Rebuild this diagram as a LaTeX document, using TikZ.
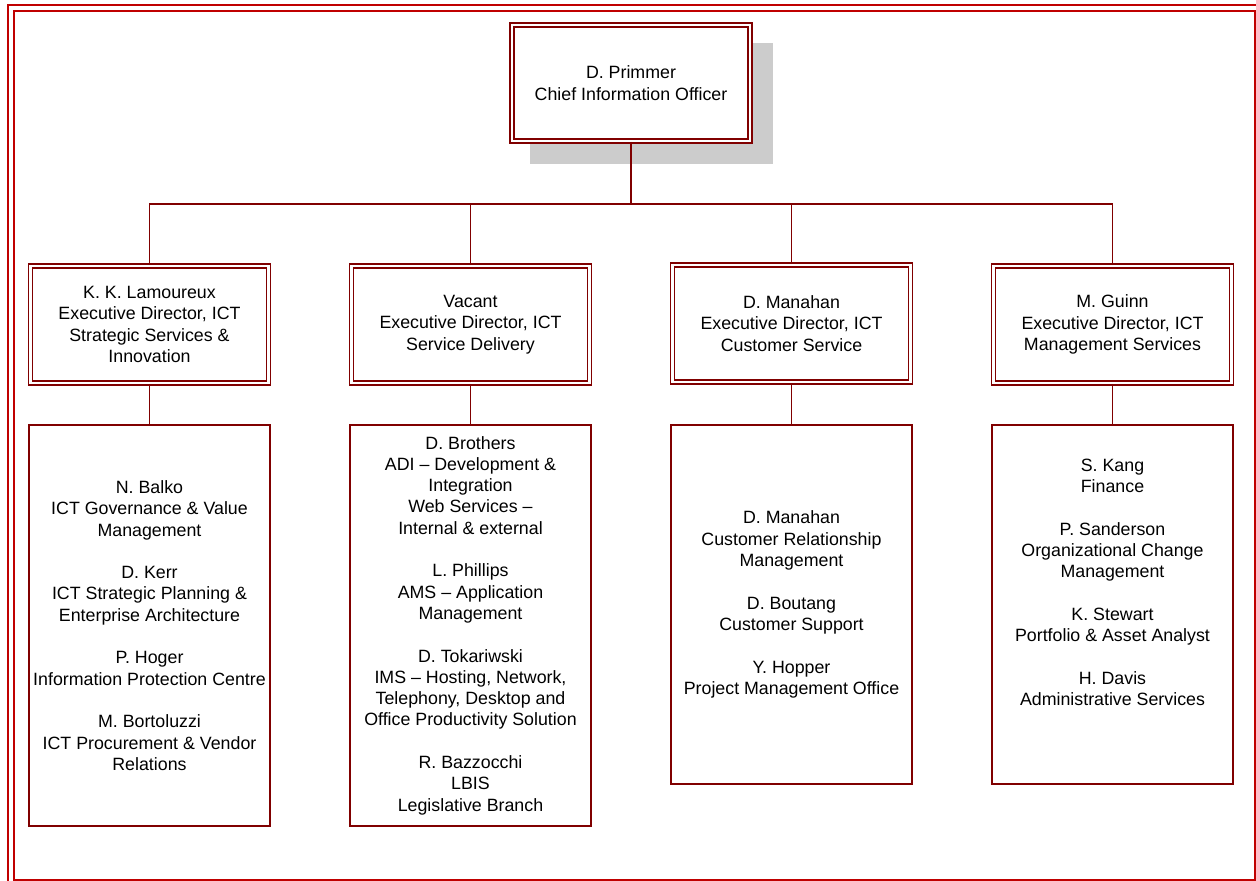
\documentclass[tikz,border=0pt]{standalone}
\usepackage{fontspec}
\setmainfont{Liberation Sans}
\definecolor{boxred}{RGB}{128,0,0}
\definecolor{framered}{RGB}{192,0,0}
\definecolor{shadowgray}{RGB}{204,204,204}
\tikzset{
  txt/.style={font=\fontsize{17.8}{21.3}\selectfont, align=center, inner sep=1pt},
  dblbox/.style={txt, draw=boxred, double=white, double distance=2.4pt, line width=1.6pt, fill=white, minimum width=238pt, minimum height=117pt},
  listbox/.style={txt, draw=boxred, line width=1.6pt, fill=white, minimum width=241pt},
  conn/.style={draw=boxred, line width=1.6pt},
  frameline/.style={draw=framered, line width=2.2pt}
}
\begin{document}
\begin{tikzpicture}[x=1pt,y=-1pt]
\useasboundingbox (0,0) rectangle (1256,881);
% page frame
\draw[frameline] (8,881) -- (8,5) -- (1256,5);
\draw[frameline] (14,11) rectangle (1255,880);
% shadow of the top box
\fill[shadowgray] (530,43) rectangle (773,164);
% top
\node[dblbox, minimum height=116pt] (cio) at (631,83) {D. Primmer\\Chief Information Officer};
% level 2
\node[dblbox] (ed1) at (149.5,324.5) {K. K. Lamoureux\\Executive Director, ICT\\Strategic Services \&\\Innovation};
\node[dblbox] (ed2) at (470.5,324.5) {Vacant\\Executive Director, ICT\\Service Delivery};
\node[dblbox] (ed3) at (791.5,323.5) {D. Manahan\\Executive Director, ICT\\Customer Service};
\node[dblbox] (ed4) at (1112.5,324.5) {M. Guinn\\Executive Director, ICT\\Management Services};
% level 3
\node[listbox, minimum height=401pt] (t1) at (149.5,625.5) {N. Balko\\ICT Governance \& Value\\Management\\[21.3pt]D. Kerr\\ICT Strategic Planning \&\\Enterprise Architecture\\[21.3pt]P. Hoger\\Information Protection Centre\\[21.3pt]M. Bortoluzzi\\ICT Procurement \& Vendor\\Relations};
\node[listbox, minimum height=401pt] (t2) at (470.5,625.5) {D. Brothers\\ADI – Development \&\\Integration\\Web Services –\\Internal \& external\\[21.3pt]L. Phillips\\AMS – Application\\Management\\[21.3pt]D. Tokariwski\\IMS – Hosting, Network,\\Telephony, Desktop and\\Office Productivity Solution\\[21.3pt]R. Bazzocchi\\LBIS\\Legislative Branch};
\node[listbox, minimum height=359pt] (t3) at (791.5,604.5) {D. Manahan\\Customer Relationship\\Management\\[21.3pt]D. Boutang\\Customer Support\\[21.3pt]Y. Hopper\\Project Management Office};
\node[listbox, minimum height=359pt] (t4) at (1112.5,604.5) {S. Kang\\Finance\\[21.3pt]P. Sanderson\\Organizational Change\\Management\\[21.3pt]K. Stewart\\Portfolio \& Asset Analyst\\[21.3pt]H. Davis\\Administrative Services\\[16.5pt]\strut};
% connectors
\coordinate (bus) at (631,204);
\draw[conn] (cio.south) -- (bus);
\draw[conn] (ed1.north) |- (bus);
\draw[conn] (ed2.north) |- (bus);
\draw[conn] (ed3.north) |- (bus);
\draw[conn] (ed4.north) |- (bus);
\draw[conn] (ed1.south) -- (t1.north);
\draw[conn] (ed2.south) -- (t2.north);
\draw[conn] (ed3.south) -- (t3.north);
\draw[conn] (ed4.south) -- (t4.north);
\end{tikzpicture}
\end{document}
